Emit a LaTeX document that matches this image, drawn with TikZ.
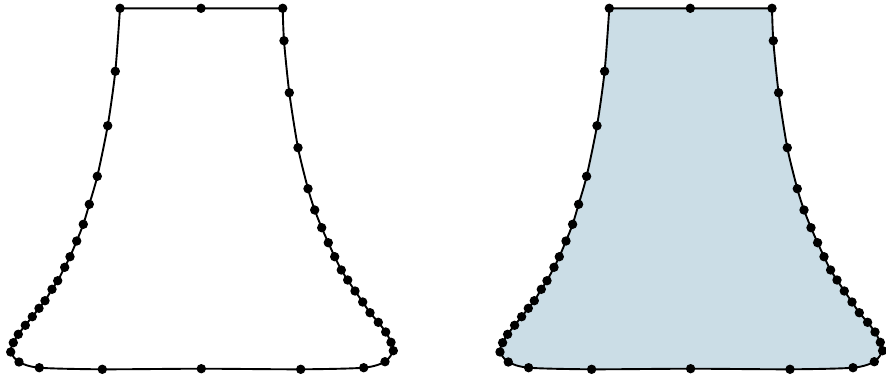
\documentclass[tikz,border=0pt]{standalone}
\usepackage{tikz}
\definecolor{bellblue}{RGB}{203,221,230}

\begin{document}
\begin{tikzpicture}[x=1pt, y=-1pt]
        \def\gap{489.3}
        \def\dotr{4.7pt}
        \useasboundingbox (0,0) rectangle (886,378);

        \foreach \dx/\col in {0/white, \gap/bellblue} {
            \begin{scope}[xshift=\dx]
                % Outline
                \draw[fill=\col, line width=1.9pt, line join=round]
                    (120,8.3) -- (201,8.3) -- (282.7,8.3)
                    -- plot[smooth, tension=0.45] coordinates {
                        (282.7,8.3) (284,40.7) (289.3,92.7) (298,147.7) (308,188.7)
                        (314.7,210) (321.7,227.7) (328.3,242.7) (334.7,256.7) (341.3,270)
                        (347.7,280) (355,291) (362.7,302) (370,312.7) (378.3,322.3)
                        (385.7,332) (391,342.3) (393.3,350.7) (385,361.7) (363.7,367.7)
                        (300.7,369.3) (201.3,368.7) (102.3,369.3) (39.3,367.7) (19,362)
                        (10.7,352) (13.3,342.7) (18.3,334.3) (25.3,325.3) (32.3,316.7)
                        (39,308.3) (45,300.7) (52,289.3) (57.7,280.7) (64.7,267.3)
                        (70,256.7) (76.7,241) (83.3,224.3) (89.3,204.3) (97.3,176.3)
                        (107.7,125.7) (115.3,71.3) (120,8.3)}
                    -- cycle;

                % Control points
                \foreach \px/\py in {120/8.3, 201/8.3, 282.7/8.3,
                    284/40.7, 289.3/92.7, 298/147.7, 308/188.7, 314.7/210,
                    321.7/227.7, 328.3/242.7, 334.7/256.7, 341.3/270, 347.7/280,
                    355/291, 362.7/302, 370/312.7, 378.3/322.3, 385.7/332,
                    391/342.3, 393.3/350.7, 385/361.7, 363.7/367.7, 300.7/369.3,
                    201.3/368.7, 102.3/369.3, 39.3/367.7, 19/362, 10.7/352,
                    13.3/342.7, 18.3/334.3, 25.3/325.3, 32.3/316.7, 39/308.3,
                    45/300.7, 52/289.3, 57.7/280.7, 64.7/267.3, 70/256.7,
                    76.7/241, 83.3/224.3, 89.3/204.3, 97.3/176.3, 107.7/125.7,
                    115.3/71.3}
                    \fill (\px,\py) circle (\dotr);
            \end{scope}
        }
    \end{tikzpicture}
\end{document}
